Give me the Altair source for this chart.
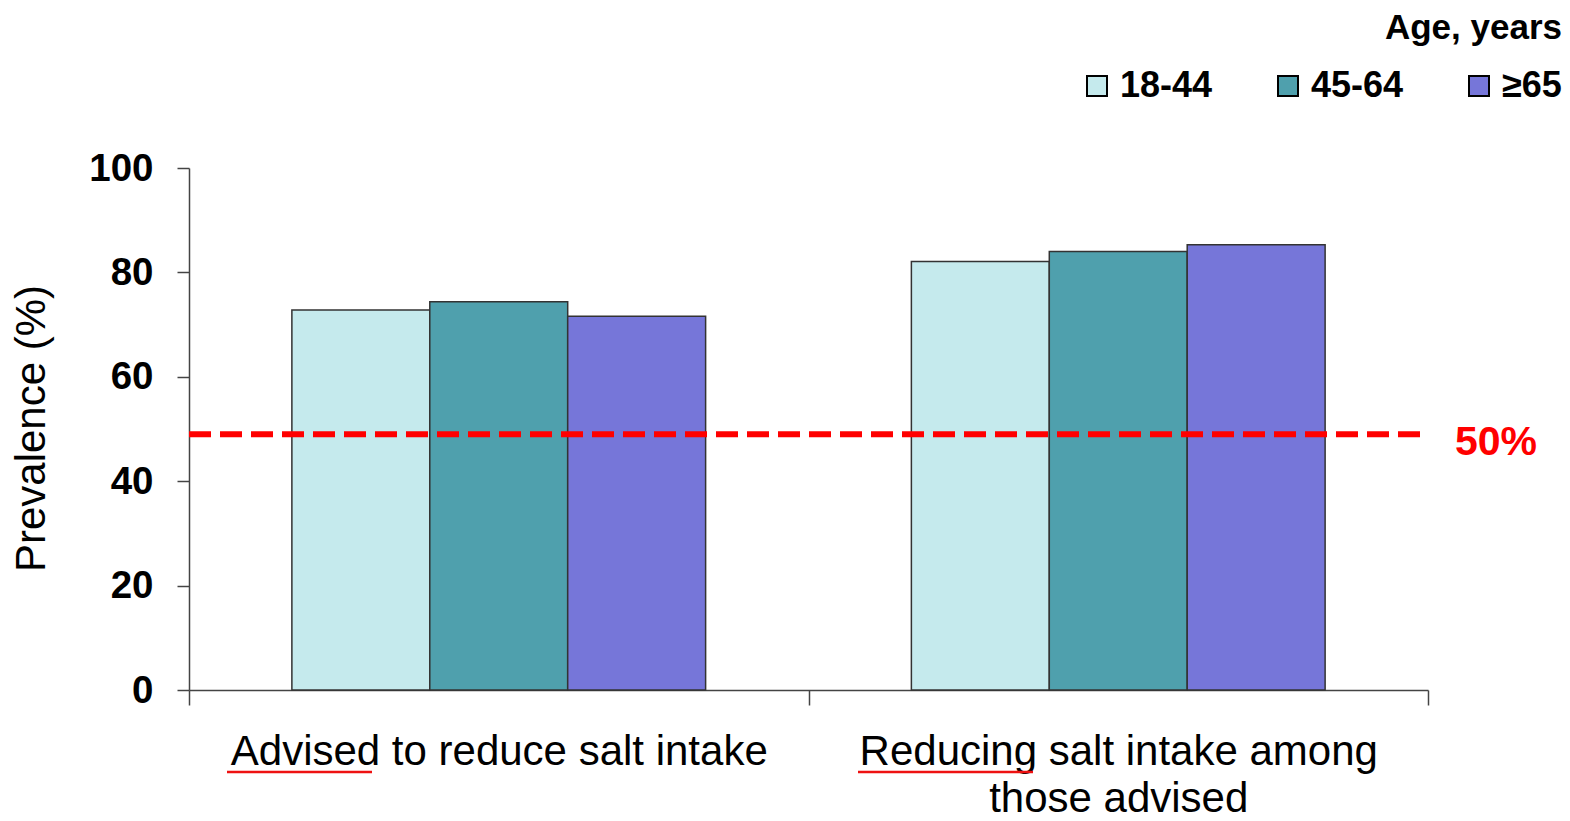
import altair as alt
import pandas as pd

categories = ["Advised to reduce salt intake", "Reducing salt intake among|those advised"]
age_groups = ["18-44", "45-64", "≥65"]
advised = [72.8, 74.4, 71.6]
reducing = [82.1, 84.0, 85.3]
colors = ["#C5EAED", "#4FA0AD", "#7676D9"]
target = [49]
target_label = ["50%"]

rows = []
for cat, vals in zip(categories, [advised, reducing]):
    for age, v in zip(age_groups, vals):
        rows.append({"category": cat, "age": age, "value": v})
df = pd.DataFrame(rows)
ref_df = pd.DataFrame({"v": target, "label": target_label})

FONT = "Liberation Sans"

yscale = alt.Scale(domain=[0, 100])

bars = alt.Chart(df).mark_bar(stroke="#333333", strokeWidth=1.5).encode(
    x=alt.X(
        "category:N",
        sort=categories,
        scale=alt.Scale(paddingInner=0, paddingOuter=0),
        axis=alt.Axis(
            title=None, labelAngle=0, labelExpr="split(datum.label, '|')",
            tickBand="extent", tickSize=15, tickWidth=1.5, tickColor="#444444",
            domainColor="#444444", domainWidth=1.5,
            labelFont=FONT, labelFontSize=42, labelColor="black",
            labelPadding=26, labelLineHeight=47, labelLimit=800,
        ),
    ),
    xOffset=alt.XOffset("age:N", sort=age_groups,
                        scale=alt.Scale(paddingOuter=0.746, paddingInner=0)),
    y=alt.Y(
        "value:Q",
        scale=yscale,
        axis=alt.Axis(
            values=[0, 20, 40, 60, 80, 100], grid=False,
            tickSize=12, tickWidth=1.5, tickColor="#444444",
            domainColor="#444444", domainWidth=1.5,
            labelFont=FONT, labelFontSize=38.5, labelFontWeight="bold", labelColor="black",
            labelPadding=24,
            title="Prevalence (%)", titleFont=FONT, titleFontSize=42,
            titleFontWeight="normal", titleColor="black",
            titleX=-145, titleY=260, titleAngle=270, titleBaseline="alphabetic",
            titleAlign="center",
        ),
    ),
    color=alt.Color(
        "age:N", sort=age_groups,
        scale=alt.Scale(domain=age_groups, range=colors),
        legend=alt.Legend(
            title="Age, years", titleFont=FONT, titleFontSize=35, titleFontWeight="bold",
            titleColor="black", titleAnchor="end", titlePadding=22,
            orient="none", legendX=890, legendY=-157, direction="horizontal",
            symbolType="square", symbolSize=400, symbolStrokeColor="black",
            symbolStrokeWidth=2, symbolOpacity=1,
            labelFont=FONT, labelFontSize=36, labelFontWeight="bold", labelColor="black",
            labelOffset=5, columnPadding=57, padding=0,
        ),
    ),
)

rule = alt.Chart(ref_df).mark_rule(color="#FF0000", strokeWidth=6, strokeDash=[22, 9]).encode(
    y=alt.Y("v:Q", scale=yscale),
    x=alt.value(0),
    x2=alt.value(1231),
)

ref_text = alt.Chart(ref_df).mark_text(
    color="#FF0000", font=FONT, fontSize=41, fontWeight="bold", align="left", baseline="middle", dy=9
).encode(
    y=alt.Y("v:Q", scale=yscale),
    x=alt.value(1266),
    text="label:N",
)

underline_df = pd.DataFrame({"x1": [38, 669], "x2": [183, 844]})
underlines = alt.Chart(underline_df).mark_rule(color="#EE1111", strokeWidth=2.5).encode(
    x=alt.X("x1:Q", scale=None),
    x2="x2:Q",
    y=alt.value(604),
)

chart = alt.layer(bars, rule, ref_text, underlines).properties(
    width=1239, height=522,
    background="white",
    autosize=alt.AutoSizeParams(type="none"),
    padding={"left": 189, "top": 168, "right": 142, "bottom": 131},
).configure_view(strokeWidth=0, stroke="transparent")

chart.save("out.html", embed_options={"renderer": "svg", "actions": False})
